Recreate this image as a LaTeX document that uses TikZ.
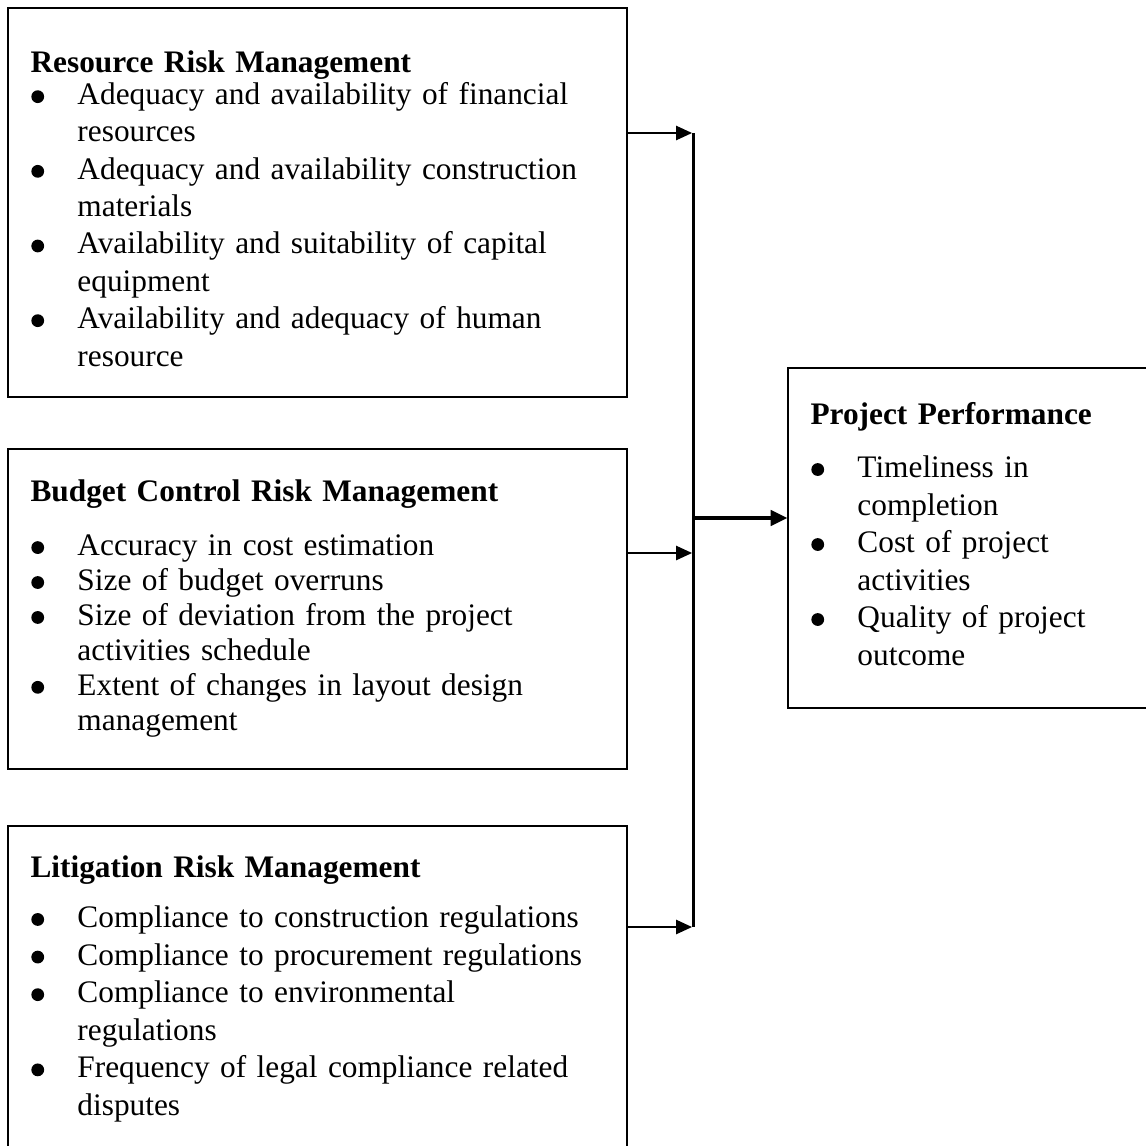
\documentclass[tikz,border=0pt]{standalone}
\usepackage{fontspec}
\setmainfont{Liberation Serif}
\usetikzlibrary{arrows.meta,fit}

% round bullet sitting on the baseline
\newcommand\dotmark{\tikz[baseline=0pt]\fill (0pt,3pt) circle[radius=2.4pt];}
% one bulleted entry with a hanging indent
\newcommand\bul[1]{\par\noindent\hangindent=17.6pt\hangafter=1\makebox[17.6pt][l]{\hspace{0.3pt}\dotmark}#1}
% bold heading of a box, followed by a small extra gap
\newcommand\boxhead[2]{\noindent\strut\textbf{#1}\par\vspace{#2}}

\begin{document}
\begin{tikzpicture}[x=0.375pt,y=-0.375pt,
  frame/.style={draw, line width=0.56pt, inner sep=0pt, rectangle},
  txt/.style={anchor=north west, inner sep=0pt, text width=225pt, align=left},
  feed/.style={line width=0.55pt, -{Triangle[length=6pt,width=5.4pt]}},
  bus/.style={line width=1.2pt},
  mainarrow/.style={line width=1.2pt, -{Triangle[length=6.2pt,width=5.8pt]}}]
\useasboundingbox (0,0) rectangle (1146,1145);
\clip (0,0) rectangle (1146,1145);

% frames
\node[frame, fit={(8,8) (627,397)}] (b1) {};
\node[frame, fit={(8,449) (627,769)}] (b2) {};
\node[frame, fit={(8,826) (627,1170)}] (b3) {};
\node[frame, fit={(788,368) (1170,708)}] (b4) {};

% contents
\node[txt, font=\fontsize{11.75}{14.0}\selectfont] (t1) at (30,46)
 {\boxhead{Resource Risk Management}{-2pt}%
  \bul{Adequacy and availability of financial\newline resources}
  \bul{Adequacy and availability construction\newline materials}
  \bul{Availability and suitability of capital\newline equipment}
  \bul{Availability and adequacy of human\newline resource}\par};

\node[txt, font=\fontsize{11.75}{13.1}\selectfont] (t2) at (30,477)
 {\boxhead{Budget Control Risk Management}{7pt}%
  \bul{Accuracy in cost estimation}
  \bul{Size of budget overruns}
  \bul{Size of deviation from the project\newline activities schedule}
  \bul{Extent of changes in layout design\newline management}\par};

\node[txt, font=\fontsize{11.75}{14.1}\selectfont] (t3) at (30,851)
 {\boxhead{Litigation Risk Management}{4.5pt}%
  \bul{Compliance to construction regulations}
  \bul{Compliance to procurement regulations}
  \bul{Compliance to environmental\newline regulations}
  \bul{Frequency of legal compliance related\newline disputes}\par};

\node[txt, text width=140pt, font=\fontsize{11.75}{14.06}\selectfont] (t4) at (810,397.8)
 {\boxhead{Project Performance}{5.8pt}%
  \bul{Timeliness in\newline completion}
  \bul{Cost of project\newline activities}
  \bul{Quality of project\newline outcome}\par};

% collecting bus and its connectors
\coordinate (bt) at (693.7,133);
\coordinate (bb) at (693.7,927);
\coordinate (j1) at (692,133);
\coordinate (j2) at (692,553);
\coordinate (j3) at (692,927);
\coordinate (jm) at (693.7,518);

\draw[bus] (bt) -- (bb);
\draw[feed] (b1.east |- j1) -- (j1);
\draw[feed] (b2.east |- j2) -- (j2);
\draw[feed] (b3.east |- j3) -- (j3);
\draw[mainarrow] (jm) -- (b4.west |- jm);
\end{tikzpicture}
\end{document}
